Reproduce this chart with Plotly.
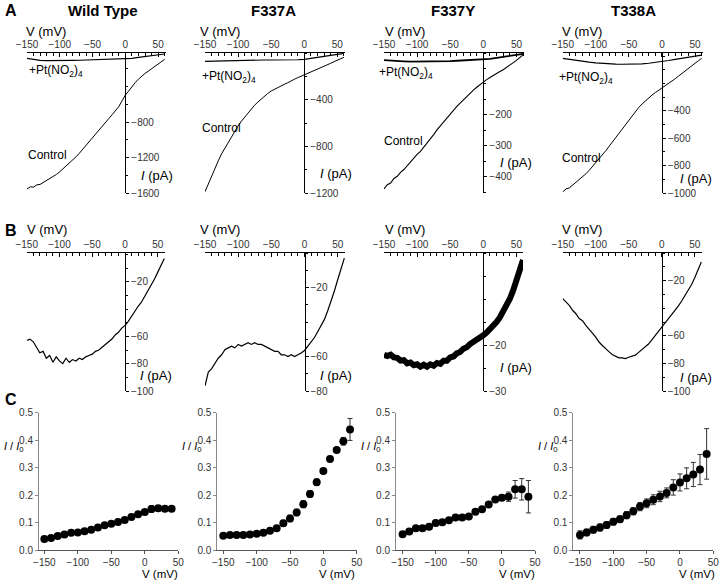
import plotly.graph_objects as go

W, H = 720, 580

# ---------------- DATA ----------------
V_TRACE = [-150, -145, -140, -135, -130, -125, -120, -115, -110, -105, -100, -95, -90, -85, -80,
           -75, -70, -65, -60, -55, -50, -45, -40, -35, -30, -25, -20, -15, -10, -5, 0,
           5, 10, 15, 20, 25, 30, 35, 40, 45, 50, 55, 60]
V_PT = [-150, -140, -130, -120, -110, -100, -90, -80, -70, -60, -50, -40, -30, -20, -10, 0,
        10, 20, 30, 40, 50, 60]

# Row A: control currents (pA)
WT_CONTROL = [-1555, -1530, -1534, -1508, -1503, -1480, -1464, -1440, -1418, -1390, -1360, -1327, -1295,
              -1263, -1232, -1190, -1150, -1105, -1060, -1015, -975, -932, -890, -845, -802, -758,
              -715, -670, -625, -560, -494, -450, -400, -355, -315, -280, -250, -225, -200, -175,
              -148, -120, -91]
F337A_CONTROL = [-1189, -1120, -1055, -990, -925, -865, -815, -765, -715, -665, -625, -585, -548,
                 -512, -478, -447, -420, -393, -368, -346, -326, -310, -295, -282, -268, -255,
                 -238, -225, -212, -200, -189, -177, -164, -152, -140, -127, -115, -101, -88,
                 -74, -61, -49, -37]
F337Y_CONTROL = [-440, -426, -421, -406, -399, -386, -377, -364, -352, -341, -328, -318, -305, -292,
                 -278, -264, -249, -236, -223, -210, -197, -184, -173, -162, -151, -140, -130,
                 -120, -111, -102, -93, -86, -79, -72, -66, -60, -54, -47, -40, -33, -24, -15, -6]
T338A_CONTROL = [-992, -970, -963, -942, -927, -903, -882, -860, -835, -808, -780, -752, -722, -692,
                 -660, -628, -597, -565, -532, -500, -467, -433, -402, -375, -350, -327, -305,
                 -285, -267, -251, -236, -219, -202, -185, -166, -147, -127, -108, -89, -71, -53,
                 -35, -17]
# Row A: currents with +Pt(NO2)4 (pA)
WT_PT = [-80, -95, -103, -106, -107, -106, -105, -103, -102, -100, -98, -96, -94, -92, -90, -88,
         -80, -70, -60, -50, -40, -31]
F337A_PT = [-72, -70, -68, -66, -64, -62, -61, -60, -60, -60, -60, -60, -62, -62, -58, -54,
            -46, -38, -28, -20, -10, -3]
F337Y_PT = [-23, -25, -26, -27, -28, -28, -28, -27, -27, -26, -26, -25, -24, -23, -22, -21,
            -19, -16, -13, -10, -6, -3]
T338A_PT = [-17, -25, -32, -39, -45, -50, -54, -57, -59, -60, -60, -59, -57, -53, -48, -41,
            -33, -25, -16, -8, 0, 7]

# Row B: difference currents (pA)
WT_DIFF = [-63, -62, -64, -68, -72, -71, -76, -74, -79, -75, -78, -80, -76, -79, -77, -78, -76,
           -77, -75, -74, -73, -71, -70, -68, -66, -64, -62, -59, -57, -54, -52, -49, -45, -42,
           -38, -35, -31, -27, -22, -18, -13, -8, -3]
F337A_DIFF = [-77, -69, -67, -64, -61, -59, -56, -55, -54, -55, -53, -54, -53, -52, -53, -52, -53,
              -53, -54, -55, -56, -57, -57, -59, -59, -60, -59, -60, -59, -58, -56.5, -54,
              -51.5, -49, -45.5, -42, -38.5, -33.5, -28, -22, -15.5, -9.5, -3]
F337Y_DIFF = [-22.1, -22.4, -22.1, -22.7, -22.8, -23.4, -23.3, -24.0, -23.8, -24.4, -24.2, -24.7,
              -24.3, -24.7, -24.2, -24.5, -23.9, -24.1, -23.4, -23.4, -22.7, -22.5, -21.8, -21.5,
              -20.8, -20.5, -19.8, -19.4, -18.9, -18.5, -17.9, -17.3, -16.6, -15.9, -15.0,
              -14.0, -12.8, -11.5, -10.0, -8.2, -6.2, -4.0, -1.5]
T338A_DIFF = [-33, -35.5, -38, -41.5, -44, -47.5, -49, -52.5, -55, -58, -61, -64.5, -67, -69.5,
              -71.5, -73.5, -74.5, -76, -76, -76.5, -75.5, -74.5, -74, -72, -70, -68, -66, -63,
              -60, -57, -54, -51, -48, -45, -42, -38.5, -35, -31, -27.5, -23, -18, -12, -6.5]

# Row C: fractional remaining current I/I0 (mean +/- SEM)
V_STEPS = [-150, -140, -130, -120, -110, -100, -90, -80, -70, -60, -50, -40, -30, -20, -10, 0,
           10, 20, 30, 40]
WT_RATIO = [0.040, 0.044, 0.051, 0.056, 0.063, 0.064, 0.068, 0.074, 0.082, 0.090, 0.096, 0.102,
            0.109, 0.120, 0.130, 0.138, 0.149, 0.152, 0.150, 0.150]
WT_ERR = [0.004, 0.004, 0.004, 0.004, 0.004, 0.004, 0.004, 0.005, 0.005, 0.005, 0.005, 0.005,
          0.006, 0.007, 0.008, 0.010, 0.012, 0.010, 0.007, 0.007]
F337A_RATIO = [0.052, 0.055, 0.055, 0.055, 0.056, 0.059, 0.063, 0.070, 0.079, 0.097, 0.115, 0.137,
               0.167, 0.204, 0.247, 0.288, 0.331, 0.364, 0.396, 0.439]
F337A_ERR = [0.004, 0.004, 0.004, 0.004, 0.004, 0.005, 0.006, 0.007, 0.009, 0.011, 0.012, 0.012,
             0.013, 0.012, 0.012, 0.008, 0.006, 0.006, 0.014, 0.040]
F337Y_RATIO = [0.057, 0.067, 0.079, 0.079, 0.085, 0.098, 0.101, 0.108, 0.118, 0.118, 0.122, 0.139,
               0.148, 0.166, 0.184, 0.190, 0.194, 0.221, 0.221, 0.194]
F337Y_ERR = [0.005, 0.006, 0.010, 0.009, 0.008, 0.010, 0.010, 0.007, 0.006, 0.006, 0.005, 0.006,
             0.006, 0.006, 0.007, 0.010, 0.017, 0.032, 0.039, 0.059]
T338A_RATIO = [0.055, 0.064, 0.074, 0.082, 0.091, 0.103, 0.112, 0.127, 0.141, 0.158, 0.170, 0.183,
               0.195, 0.208, 0.228, 0.246, 0.261, 0.275, 0.293, 0.350]
T338A_ERR = [0.015, 0.012, 0.012, 0.013, 0.012, 0.012, 0.012, 0.013, 0.013, 0.015, 0.016, 0.018,
             0.019, 0.018, 0.028, 0.031, 0.038, 0.044, 0.055, 0.092]

TITLES = ["Wild Type", "F337A", "F337Y", "T338A"]
V_TICKS = [-150, -100, -50, 0, 50]

# ---------------- LAYOUT HELPERS ----------------
FONT = "Arial, Liberation Sans, sans-serif"
TICKFONT = dict(family=FONT, size=10, color="#333")


def fx(p):
    return p / W


def fy(p):
    return 1 - p / H


fig = go.Figure()
layout = dict(template="none", width=W, height=H, autosize=False,
              margin=dict(l=0, r=0, t=0, b=0, pad=0),
              paper_bgcolor="white", plot_bgcolor="rgba(0,0,0,0)",
              showlegend=False, font=dict(family=FONT, color="black"))
annotations = []

ax_n = [0]


def new_axes():
    ax_n[0] += 1
    n = ax_n[0]
    return n, ("x" if n == 1 else f"x{n}"), ("y" if n == 1 else f"y{n}"), \
        ("xaxis" if n == 1 else f"xaxis{n}"), ("yaxis" if n == 1 else f"yaxis{n}")


def crossing_panel(x0, x1, xr, top, bottom, yr, ytv, yminor, traces):
    n, xa, ya, xk, yk = new_axes()
    zero_px = x0 + (0 - xr[0]) / (xr[1] - xr[0]) * (x1 - x0)
    layout[xk] = dict(domain=[fx(x0), fx(x1)], range=xr, anchor=ya, side="top",
                      automargin=False,
                      showline=True, linecolor="black", linewidth=1, showgrid=False,
                      zeroline=False, ticks="inside", ticklen=4, tickcolor="black",
                      tickmode="array", tickvals=V_TICKS, tickfont=TICKFONT,
                      minor=dict(tickmode="linear", tick0=0, dtick=10, ticks="inside",
                                 ticklen=2.5, tickcolor="black", showgrid=False))
    layout[yk] = dict(domain=[fy(bottom), fy(top)], range=yr, anchor="free",
                      automargin=False,
                      position=fx(zero_px), side="right", showline=True,
                      linecolor="black", linewidth=1, showgrid=False, zeroline=False,
                      ticks="outside", ticklen=3, tickcolor="black",
                      tickmode="array", tickvals=ytv, tickfont=TICKFONT,
                      minor=dict(tickmode="linear", tick0=0, dtick=yminor, ticks="outside",
                                 ticklen=2, tickcolor="black", showgrid=False))
    for xs, ys, wdt in traces:
        fig.add_trace(go.Scatter(x=xs, y=ys, mode="lines", xaxis=xa, yaxis=ya,
                                 line=dict(color="black", width=wdt), hoverinfo="skip"))


def ratio_panel(x0, x1, xr, vals, errs):
    n, xa, ya, xk, yk = new_axes()
    layout[xk] = dict(domain=[fx(x0), fx(x1)], range=xr, anchor=ya, showline=True,
                      automargin=False,
                      linecolor="#555", linewidth=1, showgrid=False, zeroline=False,
                      ticks="outside", ticklen=3, tickcolor="#555",
                      tickmode="array", tickvals=V_TICKS, tickfont=TICKFONT)
    layout[yk] = dict(domain=[fy(550), fy(412.7)], range=[0, 0.5], anchor=xa, showline=True,
                      automargin=False,
                      linecolor="#888", linewidth=1, showgrid=False, zeroline=False,
                      ticks="outside", ticklen=3, tickcolor="#888",
                      tickmode="array", tickvals=[0, 0.1, 0.2, 0.3, 0.4, 0.5],
                      tickformat=".1f", tickfont=TICKFONT)
    fig.add_trace(go.Scatter(x=V_STEPS, y=vals, mode="markers", xaxis=xa, yaxis=ya,
                             marker=dict(color="black", size=8),
                             error_y=dict(type="data", array=errs, visible=True,
                                          color="#333", thickness=1, width=2.5),
                             hoverinfo="skip"))


def ann(text, x, y, size=12, xanchor="left", yanchor="middle", bold=False):
    if bold:
        text = f"<b>{text}</b>"
    annotations.append(dict(text=text, x=fx(x), y=fy(y), xref="paper", yref="paper",
                            xanchor=xanchor, yanchor=yanchor, showarrow=False,
                            font=dict(family=FONT, size=size, color="black")))


# ---------------- ROW A ----------------
A_TOP, A_BOT = 53, 193
crossing_panel(27, 166, [-150, 62], A_TOP, A_BOT, [-1600, -20],
               [-800, -1200, -1600], 200,
               [(V_PT, WT_PT, 1.2), (V_TRACE, WT_CONTROL, 1)])
crossing_panel(205, 345.3, [-150, 62], A_TOP, A_BOT, [-1200, 0],
               [-400, -800, -1200], 200,
               [(V_PT, F337A_PT, 1.2), (V_TRACE, F337A_CONTROL, 1)])
crossing_panel(384, 524.4, [-150, 62], A_TOP, A_BOT, [-453, 0],
               [-200, -300, -400], 50,
               [(V_PT, F337Y_PT, 1.8), (V_TRACE, F337Y_CONTROL, 1.1)])
crossing_panel(562.7, 703, [-150, 62], A_TOP, A_BOT, [-1000, 22],
               [-400, -600, -800, -1000], 100,
               [(V_PT, T338A_PT, 1.2), (V_TRACE, T338A_CONTROL, 1)])

# ---------------- ROW B ----------------
B_TOP, B_BOT = 253, 391
crossing_panel(26.7, 165, [-150, 61], B_TOP, B_BOT, [-100, 1],
               [-20, -60, -80, -100], 10,
               [(V_TRACE, WT_DIFF, 1.2)])
crossing_panel(205, 345, [-150, 61], B_TOP, B_BOT, [-80, 0],
               [-20, -60, -80], 10,
               [(V_TRACE, F337A_DIFF, 1.2)])
crossing_panel(384, 523, [-150, 60], B_TOP, B_BOT, [-30, 0],
               [-20, -30], 5,
               [(V_TRACE, F337Y_DIFF, 6)])
crossing_panel(562.7, 702, [-150, 61], B_TOP, B_BOT, [-100, 0],
               [-20, -60, -80, -100], 10,
               [(V_TRACE, T338A_DIFF, 1.2)])

# ---------------- ROW C ----------------
ratio_panel(39, 178.3, [-158, 50], WT_RATIO, WT_ERR)
ratio_panel(217.3, 356.7, [-159, 50], F337A_RATIO, F337A_ERR)
ratio_panel(396, 535, [-160, 50], F337Y_RATIO, F337Y_ERR)
ratio_panel(573.3, 713.3, [-160, 50], T338A_RATIO, T338A_ERR)

# ---------------- TEXT ----------------
for t, cx in zip(TITLES, [103, 273, 453, 633]):
    ann(t, cx, 11, size=15, xanchor="center", bold=True)
ann("A", 3, 11, size=16, bold=True)
ann("B", 3, 230, size=16, bold=True)
ann("C", 3, 399, size=16, bold=True)

for x in [24, 198, 383, 560]:
    ann("V (mV)", x, 31, size=13)
    ann("V (mV)", x + 1 if x == 24 else x, 229, size=13)

PT_TXT = "+Pt(NO<sub>2</sub>)<sub>4</sub>"
for x, y in [(27, 71), (200, 77), (377, 73), (557, 78)]:
    ann(PT_TXT, x, y, size=12)
for x, y in [(26, 155), (200, 128), (382, 141), (560, 158)]:
    ann("Control", x, y, size=12)

IPA = "<i>I</i> (pA)"
for x, y in [(139, 175), (318, 173), (498, 163), (678, 178),
             (138, 375), (318, 375), (498, 367), (678, 377)]:
    ann(IPA, x, y, size=13)

for axx in [39, 217.3, 396, 573.3]:
    ann("<i>I</i> / <i>I</i><sub>0</sub>", axx - 37, 447, size=11, xanchor="left")
for xr_ in [180, 357, 537, 717]:
    ann("V (mV)", xr_, 574, size=11.5, xanchor="right")

layout["annotations"] = annotations
fig.update_layout(**layout)
fig.write_html("out.html", config={"displayModeBar": False},
               post_script="document.body.style.margin='0';document.body.style.padding='0';")
